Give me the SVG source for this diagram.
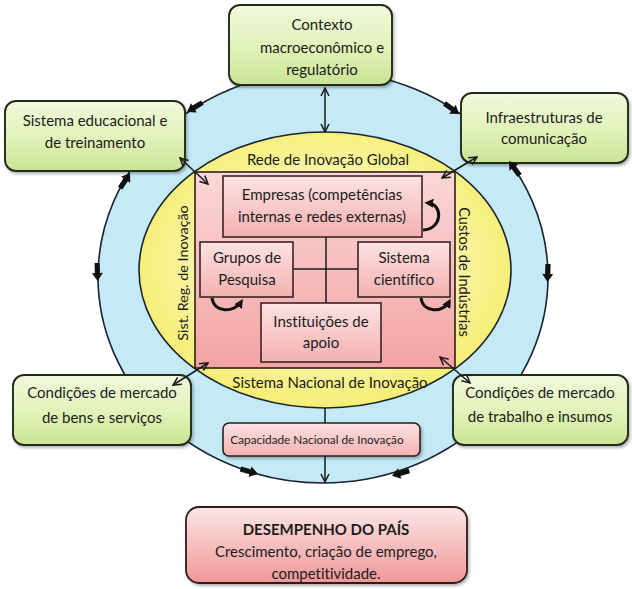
<svg xmlns="http://www.w3.org/2000/svg" width="632" height="589" viewBox="0 0 632 589">
  <defs>
    <linearGradient id="gGreen" x1="0" y1="0" x2="0" y2="1">
      <stop offset="0" stop-color="#f1f9dc"/>
      <stop offset="0.55" stop-color="#e1f2b8"/>
      <stop offset="1" stop-color="#c9e493"/>
    </linearGradient>
    <linearGradient id="gPinkBig" x1="0" y1="0" x2="0" y2="1">
      <stop offset="0" stop-color="#fbd7d7"/>
      <stop offset="1" stop-color="#f3a3a3"/>
    </linearGradient>
    <linearGradient id="gPink" x1="0" y1="0" x2="0" y2="1">
      <stop offset="0" stop-color="#fde2e2"/>
      <stop offset="1" stop-color="#f4b1b1"/>
    </linearGradient>
    <linearGradient id="gPerf" x1="0" y1="0" x2="0" y2="1">
      <stop offset="0" stop-color="#fde6e6"/>
      <stop offset="1" stop-color="#f09797"/>
    </linearGradient>
    <radialGradient id="gYellow" cx="0.5" cy="0.48" r="0.55">
      <stop offset="0" stop-color="#fdfbd6"/>
      <stop offset="0.6" stop-color="#faf5a6"/>
      <stop offset="1" stop-color="#f5ed6c"/>
    </radialGradient>
    <filter id="sh" x="-10%" y="-10%" width="125%" height="130%">
      <feDropShadow dx="1.5" dy="2" stdDeviation="1.5" flood-color="#000" flood-opacity="0.3"/>
    </filter>
    <!-- open V head for thin connectors -->
    <marker id="v" viewBox="0 0 10 10" refX="9" refY="5" markerWidth="10" markerHeight="10" markerUnits="userSpaceOnUse" orient="auto-start-reverse">
      <path d="M1,1 L9,5 L1,9" fill="none" stroke="#1a1a1a" stroke-width="1.5"/>
    </marker>
    <!-- filled head for the feedback loops -->
    <marker id="loopHead" viewBox="0 0 10 10" refX="6" refY="5" markerWidth="9" markerHeight="9" markerUnits="userSpaceOnUse" orient="auto">
      <path d="M0,0 L10,5 L0,10 Z" fill="#111"/>
    </marker>
    <!-- short heavy arrow placed along the outer ring -->
    <path id="tk" d="M-13,-2.6 L-3,-2.6 L-3,-5.5 L5,0 L-3,5.5 L-3,2.6 L-13,2.6 Z" fill="#111"/>
  </defs>

  <style>
    .gbox { fill: url(#gGreen); stroke: #222a1a; stroke-width: 1.9; filter: url(#sh); }
    .pbox { fill: url(#gPink); stroke: #3a2424; stroke-width: 1.6; }
    .t { font-family: Lato, 'Liberation Sans', sans-serif; font-size: 15px; fill: #1c1c1c; text-anchor: middle; font-variant-ligatures: none; }
    .conn { stroke: #1a1a1a; stroke-width: 1.5; fill: none; }
    .loop { stroke: #111; stroke-width: 3; fill: none; }
  </style>

  <rect width="632" height="589" fill="#ffffff"/>

  <!-- rings -->
  <g id="ring-outer">
    <ellipse cx="323" cy="277" rx="225" ry="206" fill="#c4eaf8" stroke="#1b2230" stroke-width="1.6"/>
  </g>
  <g id="ring-sni">
    <ellipse cx="325" cy="270" rx="186" ry="138" fill="url(#gYellow)" stroke="#1b2230" stroke-width="1.6"/>
    <text class="t" x="328" y="165">Rede de Inovação Global</text>
    <text class="t" x="330" y="388">Sistema Nacional de Inovação</text>
  </g>

  <!-- firm core -->
  <g id="core">
    <rect x="195" y="172" width="260" height="196" fill="url(#gPinkBig)" stroke="#2e1e1e" stroke-width="1.6"/>
    <text class="t" transform="translate(188,273) rotate(-90)" style="font-size:14.3px">Sist. Reg. de Inovação</text>
    <text class="t" transform="translate(459,272) rotate(90)" style="font-size:14.6px">Custos de Indústrias</text>
  </g>

  <g id="core-links">
    <line class="conn" x1="326" y1="237" x2="326" y2="303"/>
    <line class="conn" x1="293" y1="269" x2="358" y2="269"/>
  </g>

  <g id="empresas">
    <rect class="pbox" x="223" y="176" width="199" height="61"/>
    <text class="t" x="322" y="200">Empresas (competências</text>
    <text class="t" x="322" y="222">internas e redes externas)</text>
  </g>
  <g id="grupos">
    <rect class="pbox" x="200" y="242" width="93" height="55"/>
    <text class="t" x="247" y="263">Grupos de</text>
    <text class="t" x="247" y="285">Pesquisa</text>
  </g>
  <g id="cientifico">
    <rect class="pbox" x="358" y="242" width="92" height="55"/>
    <text class="t" x="404" y="263">Sistema</text>
    <text class="t" x="404" y="285">científico</text>
  </g>
  <g id="instituicoes">
    <rect class="pbox" x="261" y="303" width="120" height="59"/>
    <text class="t" x="321" y="327">Instituições de</text>
    <text class="t" x="321" y="348">apoio</text>
  </g>

  <!-- surrounding conditions -->
  <g id="contexto">
    <rect class="gbox" x="229" y="5" width="163" height="80" rx="11"/>
    <text class="t" x="322" y="30">Contexto</text>
    <text class="t" x="322" y="53">macroeconômico e</text>
    <text class="t" x="322" y="75">regulatório</text>
  </g>
  <g id="educacional">
    <rect class="gbox" x="5" y="101" width="180" height="70" rx="11"/>
    <text class="t" x="95" y="126">Sistema educacional e</text>
    <text class="t" x="95" y="148">de treinamento</text>
  </g>
  <g id="infraestrutura">
    <rect class="gbox" x="461" y="93" width="167" height="70" rx="11"/>
    <text class="t" x="544" y="123">Infraestruturas de</text>
    <text class="t" x="544" y="144">comunicação</text>
  </g>
  <g id="mercado-bens">
    <rect class="gbox" x="13" y="375" width="178" height="70" rx="11"/>
    <text class="t" x="102" y="398">Condições de mercado</text>
    <text class="t" x="102" y="423">de bens e serviços</text>
  </g>
  <g id="mercado-trabalho">
    <rect class="gbox" x="453" y="375" width="175" height="70" rx="11"/>
    <text class="t" x="540" y="398">Condições de mercado</text>
    <text class="t" x="540" y="422">de trabalho e insumos</text>
  </g>

  <g id="capacidade">
    <rect x="223" y="423" width="197" height="33" rx="6" fill="url(#gPink)" stroke="#2e1e1e" stroke-width="1.6" filter="url(#sh)"/>
    <text class="t" x="317" y="444" style="font-size:11.8px">Capacidade Nacional de Inovação</text>
  </g>

  <g id="desempenho">
    <rect x="186" y="507" width="281" height="76" rx="13" fill="url(#gPerf)" stroke="#2e1e1e" stroke-width="1.8" filter="url(#sh)"/>
    <text class="t" x="326" y="535" style="font-weight:bold">DESEMPENHO DO PAÍS</text>
    <text class="t" x="326" y="557">Crescimento, criação de emprego,</text>
    <text class="t" x="326" y="579">competitividade.</text>
  </g>

  <!-- connectors -->
  <g id="connectors">
    <!-- context to national system -->
    <line class="conn" x1="325" y1="88" x2="325" y2="132" marker-start="url(#v)" marker-end="url(#v)"/>
    <!-- national system to capacity, capacity to performance ring -->
    <line class="conn" x1="325" y1="408" x2="325" y2="423"/>
    <line class="conn" x1="325" y1="456" x2="325" y2="482" marker-end="url(#v)"/>

    <!-- corner links between core and outer boxes -->
    <line class="conn" x1="180" y1="158" x2="208" y2="184" marker-start="url(#v)" marker-end="url(#v)"/>
    <line class="conn" x1="477" y1="157" x2="442" y2="178" marker-start="url(#v)" marker-end="url(#v)"/>
    <line class="conn" x1="208" y1="363" x2="173" y2="385" marker-start="url(#v)" marker-end="url(#v)"/>
    <line class="conn" x1="440" y1="357" x2="470" y2="383" marker-start="url(#v)" marker-end="url(#v)"/>

    <!-- feedback loops -->
    <path class="loop" d="M423,230 C443,229 443,204 428,203" marker-end="url(#loopHead)"/>
    <path class="loop" d="M212,298 C214,313 234,313 241,302" marker-end="url(#loopHead)"/>
    <path class="loop" d="M421,298 C423,313 443,313 449,302" marker-end="url(#loopHead)"/>

    <!-- heavy arrows along the outer ring -->
    <use href="#tk" transform="translate(191.3,109.4) rotate(148.5)"/>
    <use href="#tk" transform="translate(455,111) rotate(35.7)"/>
    <use href="#tk" transform="translate(127.3,177.2) rotate(-56.7)"/>
    <use href="#tk" transform="translate(97.5,276) rotate(88.5)"/>
    <use href="#tk" transform="translate(512,165) rotate(-126)"/>
    <use href="#tk" transform="translate(547.6,277) rotate(91.8)"/>
    <use href="#tk" transform="translate(253,472.5) rotate(15.2)"/>
    <use href="#tk" transform="translate(396.8,474.4) rotate(163.3)"/>
  </g>
</svg>
